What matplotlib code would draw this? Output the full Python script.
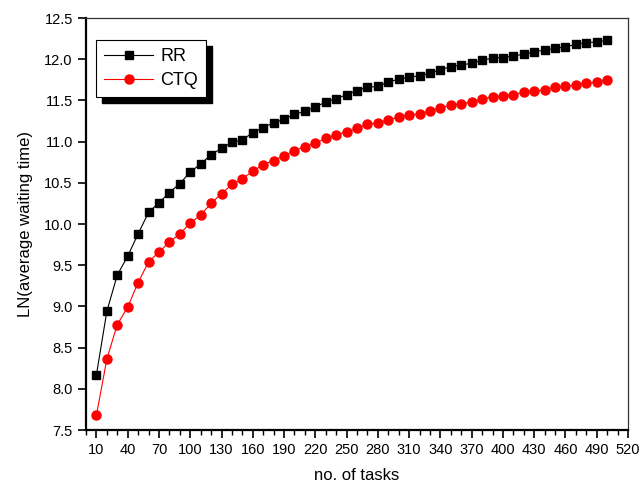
import matplotlib
matplotlib.use('Agg')
import numpy as np
import matplotlib.pyplot as plt
from matplotlib.patches import Rectangle
from matplotlib.transforms import IdentityTransform
from matplotlib.ticker import MultipleLocator

plt.rcParams['font.family'] = ['Liberation Sans', 'DejaVu Sans']

# number of tasks
tasks = list(range(10, 510, 10))

# LN(average waiting time)
rr = [8.17, 8.94, 9.38, 9.61, 9.88, 10.14, 10.26, 10.38, 10.49, 10.63,
      10.73, 10.84, 10.92, 10.99, 11.02, 11.11, 11.17, 11.23, 11.27, 11.33,
      11.37, 11.42, 11.48, 11.52, 11.57, 11.62, 11.66, 11.67, 11.72, 11.76,
      11.78, 11.80, 11.83, 11.87, 11.91, 11.93, 11.95, 11.99, 12.01, 12.02,
      12.04, 12.06, 12.09, 12.11, 12.13, 12.15, 12.18, 12.20, 12.21, 12.23]
ctq = [7.68, 8.36, 8.78, 8.99, 9.29, 9.54, 9.66, 9.78, 9.88, 10.01,
       10.11, 10.25, 10.37, 10.48, 10.55, 10.64, 10.72, 10.77, 10.83, 10.89,
       10.94, 10.98, 11.04, 11.08, 11.12, 11.16, 11.21, 11.23, 11.26, 11.30,
       11.32, 11.34, 11.37, 11.41, 11.44, 11.46, 11.48, 11.52, 11.54, 11.55,
       11.57, 11.60, 11.61, 11.63, 11.66, 11.67, 11.69, 11.71, 11.72, 11.75]

fig = plt.figure(figsize=(6.41, 4.91), dpi=100)
ax = fig.add_axes([86 / 641, 1 - 430 / 491, (628 - 86) / 641, (430 - 18) / 491])

ax.plot(tasks, rr, color='black', lw=0.8, marker='s', ms=5.5, label='RR')
ax.plot(tasks, ctq, color='red', lw=0.8, marker='o', ms=6.5, label='CTQ')

ax.set_xlim(0, 520)
ax.set_ylim(7.5, 12.5)
ax.set_xticks(list(range(10, 521, 30)))
ax.xaxis.set_minor_locator(MultipleLocator(10))
ax.yaxis.set_major_locator(MultipleLocator(0.5))
ax.yaxis.set_major_formatter(matplotlib.ticker.FormatStrFormatter('%.1f'))

ax.tick_params(axis='both', which='major', direction='out', length=6, width=1.2,
               labelsize=10.5, top=False, right=False)
ax.tick_params(axis='x', which='minor', direction='out', length=3.5, width=1.0)
for s in ['left', 'bottom']:
    ax.spines[s].set_linewidth(1.6)
for s in ['top', 'right']:
    ax.spines[s].set_linewidth(0.9)
    ax.spines[s].set_color('#333333')

ax.set_xlabel('no. of tasks', fontsize=12, labelpad=8)
ax.set_ylabel('LN(average waiting time)', fontsize=12, labelpad=8)

leg = ax.legend(loc='upper left', bbox_to_anchor=(10 / 542, 1 - 22 / 412),
                borderaxespad=0, fontsize=13,
                frameon=True, fancybox=False, edgecolor='black', framealpha=1,
                handlelength=2.7, borderpad=0.45, labelspacing=0.4,
                handletextpad=0.4)
leg.get_frame().set_linewidth(0.8)

# black drop shadow behind the legend box
fig.canvas.draw()
bb = leg.get_window_extent()
shadow = Rectangle((bb.x0 + 6, bb.y0 - 6), bb.width, bb.height,
                   transform=IdentityTransform(), color='black', zorder=4)
ax.add_artist(shadow)
leg.set_zorder(5)

fig.savefig('out.png', dpi=100)
